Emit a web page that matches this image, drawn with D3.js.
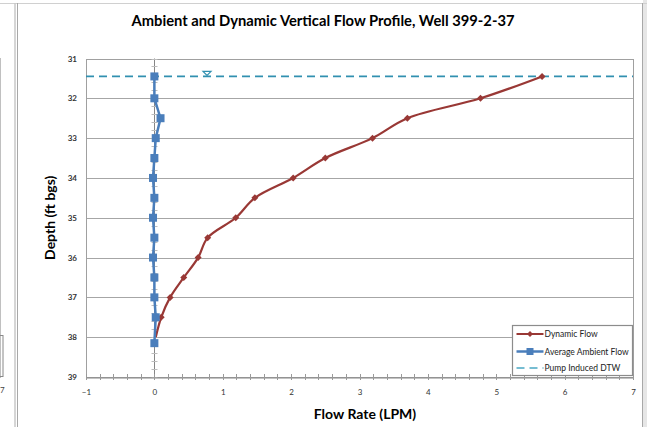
<!DOCTYPE html>
<html>
<head>
<meta charset="utf-8">
<script src="https://cdn.jsdelivr.net/npm/d3@7"></script>
<style>
  body { margin: 0; background: #fff; }
  svg { display: block; }
  text { font-family: Lato, "Liberation Sans", sans-serif; }
</style>
</head>
<body>
<svg id="chart" width="647" height="427"></svg>
<script>
// ---- data ----
const dynamicDepth = [31.45, 32, 32.5, 33, 33.5, 34, 34.5, 35, 35.5, 36, 36.5, 37, 37.5, 38.0];
const dynamicFlow  = [5.67, 4.77, 3.70, 3.19, 2.50, 2.03, 1.47, 1.19, 0.78, 0.64, 0.43, 0.23, 0.10, 0.02];
const dynamicMarker = [true, true, true, true, true, true, true, true, true, true, true, true, true, false];

const ambientDepth = [31.45, 32, 32.5, 33, 33.5, 34, 34.5, 35, 35.5, 36, 36.5, 37, 37.5, 38.15];
const ambientFlow  = [0.0, 0.0, 0.09, 0.02, 0.0, -0.02, 0.0, -0.02, 0.0, -0.02, 0.0, 0.0, 0.02, 0.0];

const dtwDepth = 31.45;
const dtwMarkerFlow = 0.77;

const xTicks = [-1, 0, 1, 2, 3, 4, 5, 6, 7];
const yTicks = [31, 32, 33, 34, 35, 36, 37, 38, 39];

const seriesNames = ["Dynamic Flow", "Average Ambient Flow", "Pump Induced DTW"];
const titleText = "Ambient and Dynamic Vertical Flow Profile, Well 399-2-37";
const xTitle = "Flow Rate (LPM)";
const yTitle = "Depth (ft bgs)";

// ---- layout ----
const svg = d3.select("#chart");
const W = 647, H = 427;
const plot = { left: 86, right: 633, top: 58.5, bottom: 377 };
const red = "#993835", blue = "#4a7ebb", teal = "#3190b0";

const x = d3.scaleLinear().domain([-1, 7]).range([plot.left, plot.right]);
const y = d3.scaleLinear().domain([31, 39]).range([plot.top, plot.bottom]);

// background / frame artifacts
svg.append("rect").attr("x", 0).attr("y", 0).attr("width", W).attr("height", H).attr("fill", "#fff");
svg.append("rect").attr("x", 643).attr("y", 0).attr("width", 4).attr("height", H).attr("fill", "#e6e6e6");
svg.append("line").attr("x1", 0).attr("x2", 647).attr("y1", 3.5).attr("y2", 3.5).attr("stroke", "#d0d0d0");
svg.append("line").attr("x1", 15).attr("x2", 15).attr("y1", 3).attr("y2", H).attr("stroke", "#c8c8c8").attr("stroke-width", 1.5);
svg.append("line").attr("x1", 17.5).attr("x2", 17.5).attr("y1", 3).attr("y2", H).attr("stroke", "#a8a8a8");
svg.append("line").attr("x1", 642.5).attr("x2", 642.5).attr("y1", 3).attr("y2", H).attr("stroke", "#a8a8a8");
svg.append("line").attr("x1", 0.5).attr("x2", 0.5).attr("y1", 58).attr("y2", 378).attr("stroke", "#c0c0c0");
svg.append("rect").attr("x", -1).attr("y", 335.5).attr("width", 4).attr("height", 41).attr("fill", "none").attr("stroke", "#888");
svg.append("text").attr("x", 0).attr("y", 393).attr("font-size", 8).attr("fill", "#444").text("7");

// title
svg.append("text").attr("x", 323).attr("y", 26).attr("text-anchor", "middle")
  .attr("font-size", 15).attr("font-weight", "bold").attr("fill", "#000")
  .attr("textLength", 383).attr("lengthAdjust", "spacingAndGlyphs").text(titleText);

// gridlines
svg.append("g").selectAll("line").data(yTicks).join("line")
  .attr("x1", plot.left).attr("x2", plot.right)
  .attr("y1", d => Math.round(y(d)) + 0.5).attr("y2", d => Math.round(y(d)) + 0.5)
  .attr("stroke", "#a6a6a6").attr("stroke-width", 1);

// plot border
svg.append("rect").attr("x", plot.left + 0.5).attr("y", Math.round(plot.top) + 0.5)
  .attr("width", plot.right - plot.left).attr("height", Math.round(plot.bottom) - Math.round(plot.top))
  .attr("fill", "none").attr("stroke", "#a0a0a0");

// vertical axis at x = 0 with minor ticks
const x0 = Math.round(x(0)) + 0.5;
svg.append("line").attr("x1", x0).attr("x2", x0).attr("y1", plot.top).attr("y2", plot.bottom)
  .attr("stroke", "#868686").attr("stroke-width", 1);
const yMinor = d3.range(31, 39.001, 0.2);
svg.append("g").selectAll("line").data(yMinor).join("line")
  .attr("x1", x0 - 3).attr("x2", x0 + 3)
  .attr("y1", d => Math.round(y(d)) + 0.5).attr("y2", d => Math.round(y(d)) + 0.5)
  .attr("stroke", "#bdbdbd");

// bottom axis
const xAxis = d3.axisBottom(x).tickValues(xTicks).tickSize(0).tickPadding(12).tickFormat(d3.format("d"));
const gx = svg.append("g").attr("transform", `translate(0,${Math.round(plot.bottom) + 0.5})`).call(xAxis);
gx.select(".domain").attr("stroke", "#868686");
gx.selectAll("text").attr("font-size", 8).attr("fill", "#333").attr("font-family", "Lato, sans-serif");
const xMinor = d3.range(-1, 7.001, 0.2);
svg.append("g").selectAll("line").data(xMinor).join("line")
  .attr("x1", d => Math.round(x(d)) + 0.5).attr("x2", d => Math.round(x(d)) + 0.5)
  .attr("y1", plot.bottom - 3).attr("y2", plot.bottom + 3)
  .attr("stroke", "#9a9a9a");

// left axis labels
const yAxis = d3.axisLeft(y).tickValues(yTicks).tickSize(0).tickPadding(9).tickFormat(d3.format("d"));
const gy = svg.append("g").attr("transform", `translate(${plot.left},0)`).call(yAxis);
gy.select(".domain").remove();
gy.selectAll("text").attr("font-size", 8).attr("font-weight", "bold").attr("fill", "#333").attr("font-family", "Lato, sans-serif");

// axis titles
svg.append("text").attr("x", 365).attr("y", 419).attr("text-anchor", "middle")
  .attr("font-size", 14).attr("font-weight", "bold").text(xTitle);
svg.append("text").attr("transform", `translate(55,${(plot.top + plot.bottom) / 2}) rotate(-90)`)
  .attr("text-anchor", "middle").attr("font-size", 14).attr("font-weight", "bold").text(yTitle);

// DTW dashed line
svg.append("line").attr("x1", plot.left).attr("x2", plot.right)
  .attr("y1", y(dtwDepth)).attr("y2", y(dtwDepth))
  .attr("stroke", teal).attr("stroke-width", 1.6).attr("stroke-dasharray", "8,5");
// water table triangle
const tx = x(dtwMarkerFlow), ty = y(dtwDepth) - 1;
svg.append("path").attr("d", `M${tx - 4},${ty - 4}L${tx + 4},${ty - 4}L${tx},${ty}Z`)
  .attr("fill", "#fff").attr("stroke", teal).attr("stroke-width", 1.2);

// dynamic flow
const dyn = dynamicDepth.map((d, i) => ({ depth: d, flow: dynamicFlow[i], m: dynamicMarker[i] }));
const line = d3.line().x(d => x(d.flow)).y(d => y(d.depth)).curve(d3.curveCatmullRom.alpha(0.5));
svg.append("path").datum(dyn).attr("d", line).attr("fill", "none").attr("stroke", red).attr("stroke-width", 2.2);
svg.append("g").selectAll("path").data(dyn.filter(d => d.m)).join("path")
  .attr("transform", d => `translate(${x(d.flow)},${y(d.depth)})`)
  .attr("d", "M0,-3.5L3.5,0L0,3.5L-3.5,0Z").attr("fill", red);

// ambient flow
const amb = ambientDepth.map((d, i) => ({ depth: d, flow: ambientFlow[i] }));
const line2 = d3.line().x(d => x(d.flow)).y(d => y(d.depth));
svg.append("path").datum(amb).attr("d", line2).attr("fill", "none").attr("stroke", blue).attr("stroke-width", 2.5);
svg.append("g").selectAll("rect").data(amb).join("rect")
  .attr("x", d => x(d.flow) - 4).attr("y", d => y(d.depth) - 4).attr("width", 8).attr("height", 8)
  .attr("fill", blue);

// legend
const lg = svg.append("g").attr("transform", "translate(512.5,325.5)");
lg.append("rect").attr("width", 120).attr("height", 50).attr("fill", "#fff").attr("stroke", "#8c8c8c").attr("stroke-width", 1.2);
const rows = [8.5, 26, 42.5];
// dynamic
lg.append("line").attr("x1", 4).attr("x2", 31).attr("y1", rows[0]).attr("y2", rows[0]).attr("stroke", red).attr("stroke-width", 2);
lg.append("path").attr("transform", `translate(17.5,${rows[0]})`).attr("d", "M0,-3L3,0L0,3L-3,0Z").attr("fill", red);
// ambient
lg.append("line").attr("x1", 4).attr("x2", 31).attr("y1", rows[1]).attr("y2", rows[1]).attr("stroke", blue).attr("stroke-width", 2.5);
lg.append("rect").attr("x", 14).attr("y", rows[1] - 3.5).attr("width", 7).attr("height", 7).attr("fill", blue);
// dtw
lg.append("line").attr("x1", 4).attr("x2", 31).attr("y1", rows[2]).attr("y2", rows[2]).attr("stroke", "#4aa8c4").attr("stroke-width", 1.5).attr("stroke-dasharray", "8,5");
lg.selectAll("text.lab").data(seriesNames).join("text").attr("class", "lab")
  .attr("x", 32).attr("y", (d, i) => rows[i] + 3).attr("font-size", 8.5).attr("fill", "#222").text(d => d);
</script>
</body>
</html>
